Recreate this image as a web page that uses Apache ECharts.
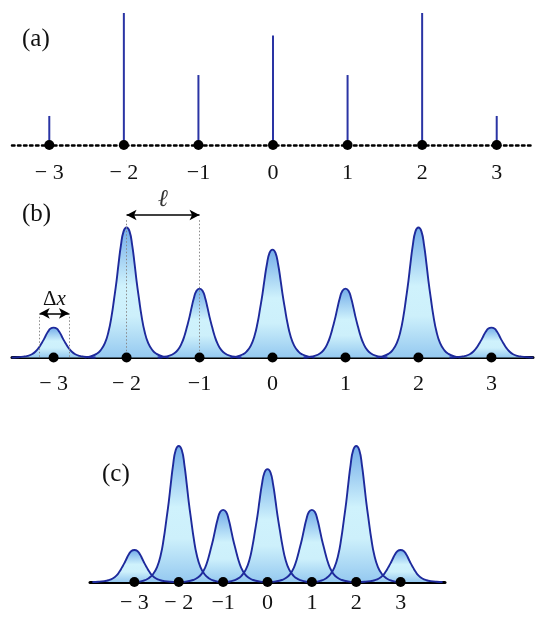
<!DOCTYPE html>
<html>
<head>
<meta charset="utf-8">
<style>
html, body { margin: 0; padding: 0; background: #fff; }
#chart { width: 546px; height: 627px; }
</style>
<script src="https://cdn.jsdelivr.net/npm/echarts@6/dist/echarts.min.js"></script>
</head>
<body>
<div id="chart"></div>
<script>
// lattice sites and their labels
var sites = [-3, -2, -1, 0, 1, 2, 3];
var tickLabels = ['\u2212 3', '\u2212 2', '\u22121', '0', '1', '2', '3'];
// (a) stem heights
var stemHeights = [0.22, 1.0, 0.53, 0.83, 0.53, 1.0, 0.22];
// (b) and (c) peak heights
var peakHeightsB = [0.23, 1.0, 0.53, 0.83, 0.53, 1.0, 0.23];
var peakHeightsC = [0.235, 1.0, 0.53, 0.83, 0.53, 1.0, 0.235];
// one peak's profile: offset from the site, relative height
var profileDxB = [0, 0.041, 0.078, 0.11, 0.137, 0.171, 0.205, 0.247, 0.297, 0.356, 0.411, 0.493, 0.575];
var profileDxC = [0, 0.068, 0.128, 0.18, 0.225, 0.282, 0.338, 0.405, 0.489, 0.586, 0.676, 0.811, 0.946];
var profileY   = [1.0, 0.97, 0.86, 0.72, 0.59, 0.45, 0.32, 0.20, 0.11, 0.055, 0.028, 0.008, 0];
// annotations in (b)
var ellArrow = [-2, -1, 1.096];
var dxArrow = [-3.19, -2.79, 0.34];

var serif = '"Liberation Serif", "DejaVu Serif", serif';
var lineColor = '#1e2a9c';

var chart = echarts.init(document.getElementById('chart'), null, { renderer: 'canvas' });

function peakData(center, amp, dx) {
    var pts = [];
    for (var k = dx.length - 1; k > 0; k--) {
        pts.push([center - dx[k], amp * profileY[k]]);
    }
    for (var k = 0; k < dx.length; k++) {
        pts.push([center + dx[k], amp * profileY[k]]);
    }
    return pts;
}

function fill() {
    return new echarts.graphic.LinearGradient(0, 0, 0, 1, [
        { offset: 0, color: '#74ade9' },
        { offset: 0.45, color: '#cff2fc' },
        { offset: 0.68, color: '#cdf0fb' },
        { offset: 1, color: '#95c9f0' }
    ]);
}

function xAxisFor(grid, min, max, dotted, margin) {
    return {
        type: 'value', gridIndex: grid, min: min, max: max,
        axisLine: {
            show: true, onZero: true,
            lineStyle: dotted ? { color: '#000', width: 2.5, type: [2.5, 3.5] } : { color: '#000', width: 3 }
        },
        axisTick: { show: false },
        splitLine: { show: false },
        axisLabel: {
            customValues: sites, margin: margin,
            fontFamily: serif, fontSize: 22, color: '#111',
            formatter: function (v) { return tickLabels[sites.indexOf(Math.round(v))]; }
        }
    };
}

var series = [];

// (a) stems
series.push({
    type: 'bar', xAxisIndex: 0, yAxisIndex: 0, barWidth: 2, clip: false,
    itemStyle: { color: '#2a34a4' },
    data: sites.map(function (s, i) { return [s, stemHeights[i]]; }),
    z: 2
});

// (b), (c) peaks: fills first, outlines on top
[[1, peakHeightsB, profileDxB], [2, peakHeightsC, profileDxC]].forEach(function (p) {
    sites.forEach(function (s, i) {
        series.push({
            type: 'line', xAxisIndex: p[0], yAxisIndex: p[0], clip: false,
            smooth: 0.5, symbol: 'none', silent: true,
            lineStyle: { width: 0 },
            areaStyle: { color: fill(), opacity: 1 },
            data: peakData(s, p[1][i], p[2]),
            z: 2
        });
    });
    sites.forEach(function (s, i) {
        series.push({
            type: 'line', xAxisIndex: p[0], yAxisIndex: p[0], clip: false,
            smooth: 0.5, symbol: 'none', silent: true,
            lineStyle: { width: 1.9, color: lineColor },
            data: peakData(s, p[1][i], p[2]),
            z: 3
        });
    });
});

// site dots
[0, 1, 2].forEach(function (g) {
    var s = {
        type: 'scatter', xAxisIndex: g, yAxisIndex: g, clip: false,
        symbolSize: 10, itemStyle: { color: '#000', opacity: 1 },
        data: sites.map(function (v) { return [v, 0]; }),
        z: 6
    };
    if (g === 1) {
        var dotted = { color: '#888', width: 1, type: [1.5, 2] };
        var arrowStyle = { color: '#000', width: 1.5, type: 'solid' };
        s.markLine = {
            silent: true, animation: false,
            symbol: ['arrow', 'arrow'], symbolSize: [8, 10],
            data: [
                [{ coord: [ellArrow[0], ellArrow[2]], lineStyle: arrowStyle,
                   label: { show: true, position: 'middle', formatter: '\u2113', fontFamily: serif,
                            fontStyle: 'italic', fontSize: 24, color: '#333', distance: 3 } },
                 { coord: [ellArrow[1], ellArrow[2]] }],
                [{ coord: [dxArrow[0], dxArrow[2]], lineStyle: arrowStyle,
                   label: { show: true, position: 'middle', formatter: '\u0394{i|x}', fontFamily: serif,
                            fontSize: 21, color: '#111', distance: 3,
                            rich: { i: { fontFamily: serif, fontStyle: 'italic', fontSize: 21, color: '#111' } } } },
                 { coord: [dxArrow[1], dxArrow[2]] }],
                [{ coord: [ellArrow[0], ellArrow[2] - 0.04], symbol: 'none', lineStyle: dotted, label: { show: false } },
                 { coord: [ellArrow[0], 0], symbol: 'none' }],
                [{ coord: [ellArrow[1], ellArrow[2] - 0.04], symbol: 'none', lineStyle: dotted, label: { show: false } },
                 { coord: [ellArrow[1], 0], symbol: 'none' }],
                [{ coord: [dxArrow[0], dxArrow[2]], symbol: 'none', lineStyle: dotted, label: { show: false } },
                 { coord: [dxArrow[0], 0], symbol: 'none' }],
                [{ coord: [dxArrow[1], dxArrow[2]], symbol: 'none', lineStyle: dotted, label: { show: false } },
                 { coord: [dxArrow[1], 0], symbol: 'none' }]
            ]
        };
    }
    series.push(s);
});

var option = {
    backgroundColor: '#fff',
    animation: false,
    grid: [
        { left: 12, right: 12, top: 13, height: 132 },
        { left: 12, right: 13, top: 162.5, height: 195 },
        { left: 90, right: 101, top: 446, height: 136 }
    ],
    xAxis: [
        xAxisFor(0, -3.5, 3.5, true, 17),
        xAxisFor(1, -3.57, 3.57, false, 16),
        xAxisFor(2, -4, 4, false, 10)
    ],
    yAxis: [
        { type: 'value', gridIndex: 0, min: 0, max: 1, show: false },
        { type: 'value', gridIndex: 1, min: 0, max: 1.5, show: false },
        { type: 'value', gridIndex: 2, min: 0, max: 1, show: false }
    ],
    graphic: [
        { type: 'text', left: 22, top: 27, style: { text: '(a)', font: '25px ' + serif, fill: '#111' } },
        { type: 'text', left: 22, top: 202, style: { text: '(b)', font: '25px ' + serif, fill: '#111' } },
        { type: 'text', left: 102, top: 462, style: { text: '(c)', font: '25px ' + serif, fill: '#111' } }
    ],
    series: series
};

chart.setOption(option);
</script>
</body>
</html>
